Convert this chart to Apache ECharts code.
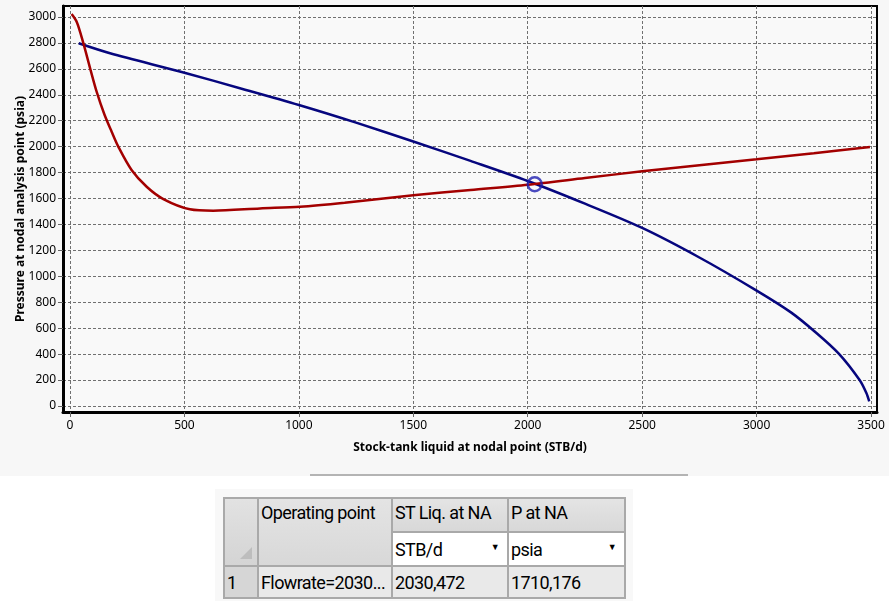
<!DOCTYPE html>
<html>
<head>
<meta charset="utf-8">
<script src="https://cdn.jsdelivr.net/npm/echarts@6/dist/echarts.min.js"></script>
<style>
  html, body { margin: 0; padding: 0; background: #ffffff; }
  body { width: 889px; height: 601px; position: relative; overflow: hidden; }
  #chart { position: absolute; left: 0; top: 0; width: 889px; height: 476px; background: #f7f7f7; }
  .sep { position: absolute; left: 310px; top: 474px; width: 378px; height: 2px; background: #b4b4b4; }
  .panel { position: absolute; left: 215px; top: 489px; width: 418px; height: 112px; background: #f8f8f8; }
  table.op {
    position: absolute; left: 223px; top: 497px; width: 401px;
    border-collapse: collapse; table-layout: fixed;
    font-family: Roboto, "Noto Sans", sans-serif; font-size: 18px; letter-spacing: -0.6px; color: #000;
  }
  table.op td { border: 2px solid #a9a9a9; padding: 0 2px; white-space: nowrap; overflow: hidden; }
  table.op .hd { background: linear-gradient(#e4e4e4, #d8d8d8); vertical-align: top; padding-top: 3px; }
  table.op .corner { background: linear-gradient(#e2e2e2, #d4d4d4); position: relative; }
  table.op .corner span {
    position: absolute; right: 5px; bottom: 6px; width: 0; height: 0;
    border-left: 12px solid transparent; border-bottom: 12px solid #bdbdbd;
  }
  table.op .unit { background: #ffffff; position: relative; }
  table.op .unit i { position: absolute; right: 8px; top: 9px; font-style: normal; font-size: 9px; }
  table.op .rowno { background: #d6d6d6; }
  table.op .cell { background: #e9e9e9; }
</style>
</head>
<body>
<div id="chart"></div>
<div class="sep"></div>
<div class="panel"></div>
<table class="op">
  <colgroup>
    <col style="width:34px"><col style="width:134px"><col style="width:116px"><col style="width:117px">
  </colgroup>
  <tr style="height:34px">
    <td class="corner" rowspan="2"><span></span></td>
    <td class="hd" rowspan="2">Operating point</td>
    <td class="hd">ST Liq. at NA</td>
    <td class="hd">P at NA</td>
  </tr>
  <tr style="height:34px">
    <td class="unit">STB/d<i>▼</i></td>
    <td class="unit">psia<i>▼</i></td>
  </tr>
  <tr style="height:32px">
    <td class="rowno">1</td>
    <td class="cell">Flowrate=2030...</td>
    <td class="cell">2030,472</td>
    <td class="cell">1710,176</td>
  </tr>
</table>

<script>
// tick labels
const rateTicks = [0, 500, 1000, 1500, 2000, 2500, 3000, 3500]
const pressureTicks = [0, 200, 400, 600, 800, 1000, 1200, 1400, 1600, 1800, 2000, 2200, 2400, 2600, 2800, 3000]

// outflow curve (red)
const vlpRate = [7, 30, 58, 87, 117, 150, 182, 211, 269, 335, 408, 524, 626, 830, 1005, 1200, 1500, 1750, 2000, 2250, 2500, 2750, 3000, 3250, 3495]
const vlpPressure = [3023, 2960, 2800, 2610, 2420, 2250, 2115, 2000, 1820, 1691, 1596, 1517, 1506, 1524, 1537, 1568, 1625, 1666, 1706, 1758, 1810, 1857, 1903, 1950, 1998]

// inflow curve (blue)
const iprRate = [38, 175, 500, 750, 1000, 1250, 1500, 1750, 2000, 2250, 2500, 2750, 3000, 3150, 3260, 3360, 3450, 3480, 3492]
const iprPressure = [2797, 2720, 2570, 2447, 2321, 2185, 2040, 1890, 1735, 1560, 1373, 1145, 890, 722, 565, 402, 200, 98, 35]

// operating point
const opRate = [2030.472]
const opPressure = [1710.176]

const font = 'Noto Sans'
const mChart = echarts.init(document.getElementById('chart'))

const options = {
  animation: false,
  backgroundColor: 'transparent',
  grid: {
    left: 63,
    top: 6,
    width: 814,
    height: 406,
    show: true,
    backgroundColor: '#f9f9f9',
    borderColor: '#000',
    borderWidth: 2
  },
  xAxis: {
    type: 'value',
    min: -30.6,
    max: 3526,
    name: 'Stock-tank liquid at nodal point (STB/d)',
    nameLocation: 'middle',
    nameGap: 30,
    nameTextStyle: { fontFamily: font, fontWeight: 'bold', fontSize: 12, color: '#000' },
    axisLine: { onZero: false, lineStyle: { color: '#000', width: 3 } },
    axisTick: { customValues: rateTicks, length: 5, lineStyle: { color: '#666' } },
    axisLabel: {
      customValues: rateTicks, margin: 8, fontFamily: font, fontSize: 12, color: '#000',
      formatter: v => String(v)
    },
    splitLine: { show: true, lineStyle: { color: '#707070', type: [3, 2], width: 1 } }
  },
  yAxis: {
    type: 'value',
    min: -46.3,
    max: 3084.7,
    name: 'Pressure at nodal analysis point (psia)',
    nameLocation: 'middle',
    nameGap: 36,
    nameMoveOverlap: false,
    nameTextStyle: { fontFamily: font, fontWeight: 'bold', fontSize: 12, color: '#000' },
    axisLine: { onZero: false, lineStyle: { color: '#000', width: 3 } },
    axisTick: { customValues: pressureTicks, length: 5, lineStyle: { color: '#666' } },
    axisLabel: {
      customValues: pressureTicks, margin: 7, fontFamily: font, fontSize: 12, color: '#000',
      formatter: v => String(v)
    },
    splitLine: { show: true, lineStyle: { color: '#707070', type: [3, 2], width: 1 } }
  },
  series: [
    {
      // inflow
      type: 'line',
      showSymbol: false,
      smooth: 0.3,
      lineStyle: { color: '#06067e', width: 2.5 },
      data: iprRate.map((x, i) => [x, iprPressure[i]])
    },
    {
      // outflow
      type: 'line',
      showSymbol: false,
      smooth: 0.3,
      lineStyle: { color: '#a30000', width: 2.5 },
      data: vlpRate.map((x, i) => [x, vlpPressure[i]])
    },
    {
      // operating point
      type: 'scatter',
      symbol: 'circle',
      symbolSize: 14,
      z: 5,
      itemStyle: { color: 'rgba(0,0,0,0)', borderColor: '#1f1fb0', borderWidth: 2.5 },
      data: opRate.map((x, i) => [x, opPressure[i]])
    }
  ]
}
mChart.setOption(options)
</script>
</body>
</html>
